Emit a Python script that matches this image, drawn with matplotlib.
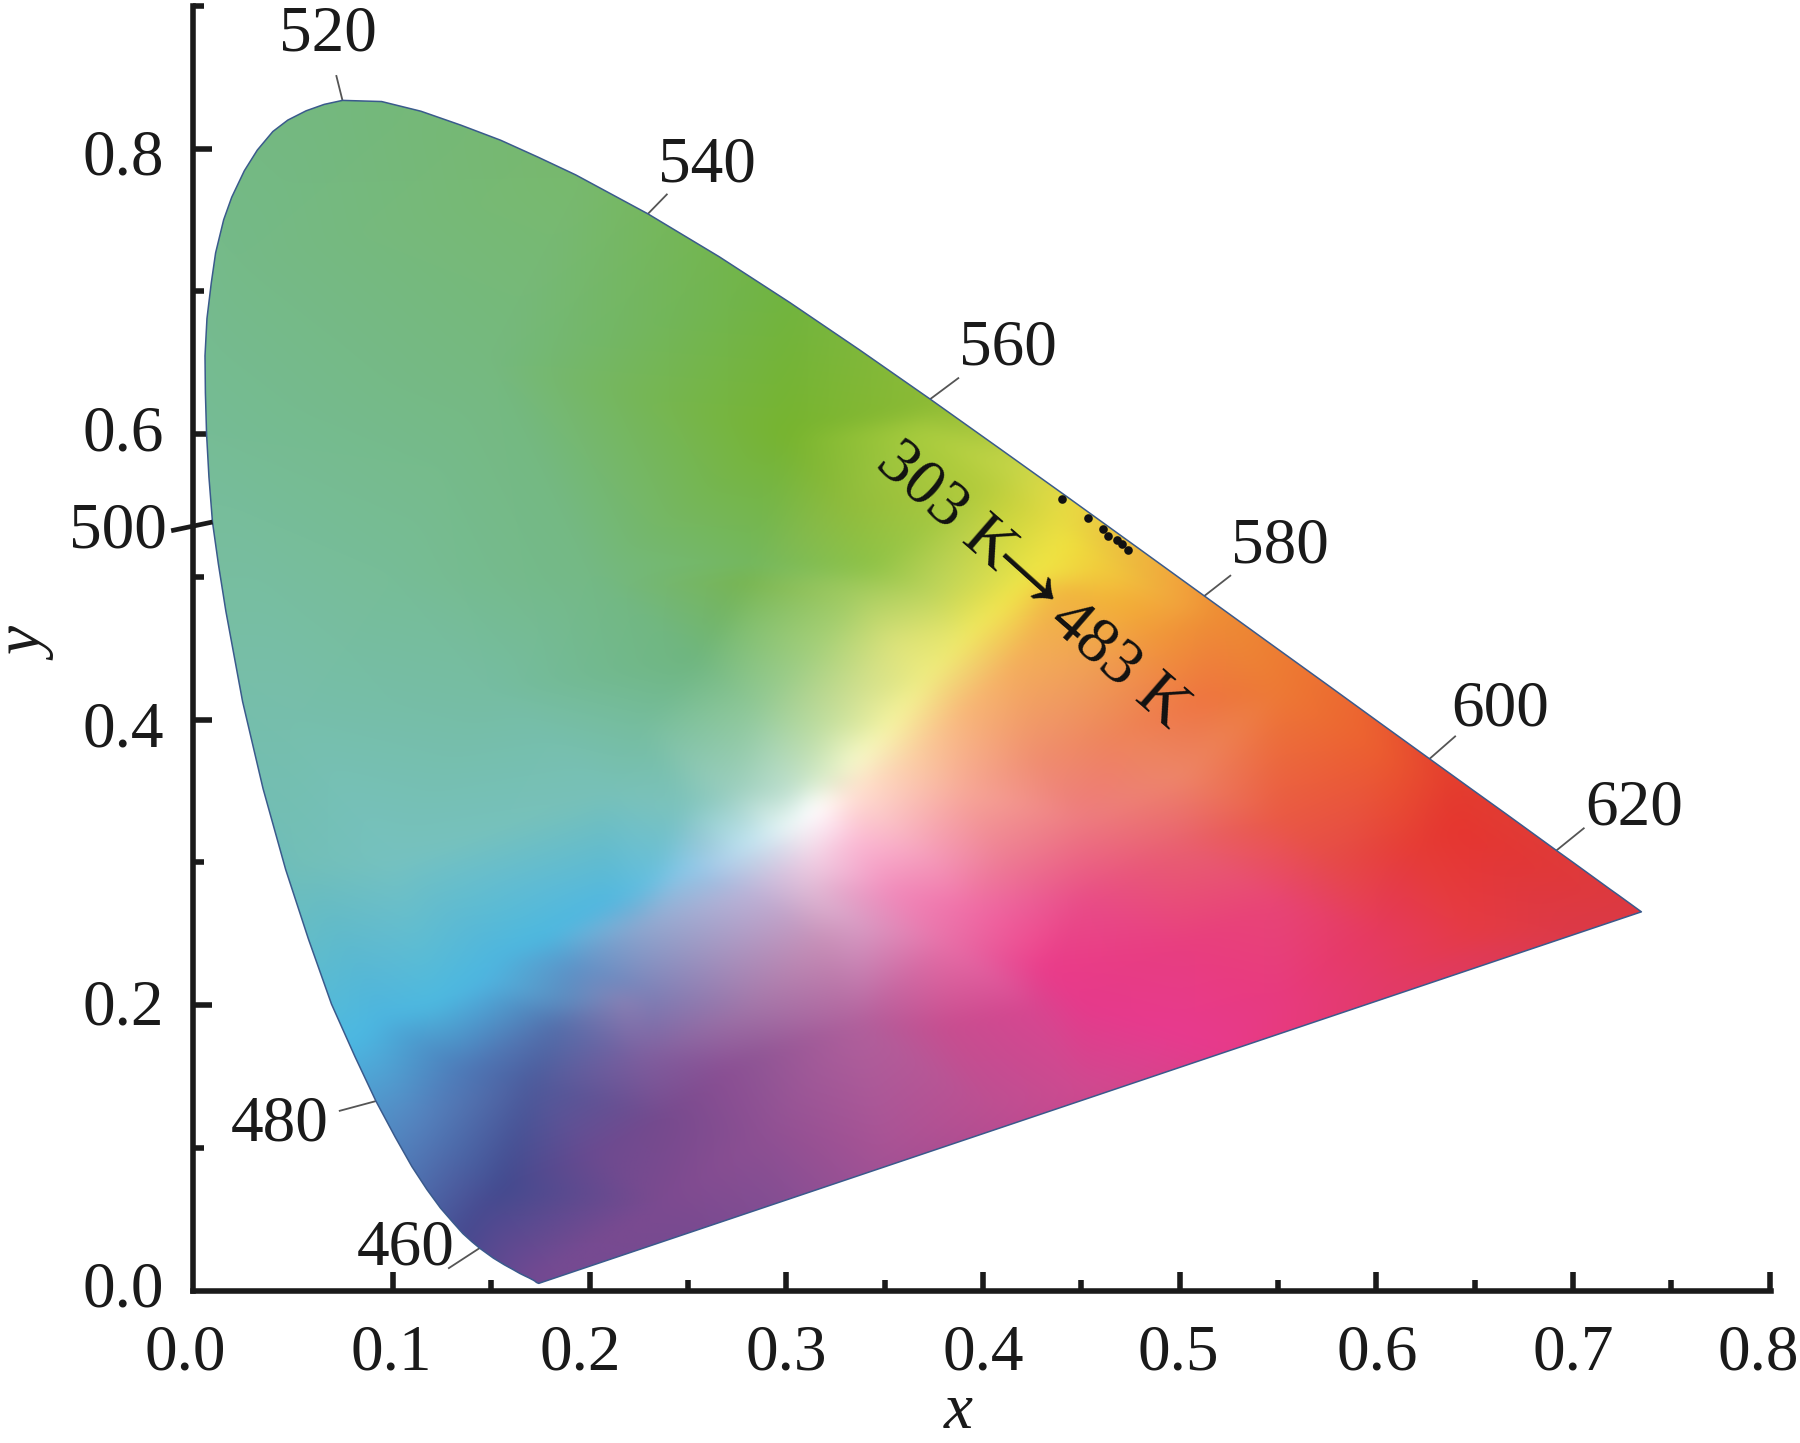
import numpy as np
import matplotlib
matplotlib.use('Agg')
import matplotlib.pyplot as plt
import matplotlib.tri as mtri
from matplotlib.colors import to_rgb
from matplotlib.patches import Polygon
from matplotlib.transforms import Affine2D

# spectral locus (nm, x, y), closer spaced where the curve bends most
locus_nm = [380, 400, 410, 415, 420, 425, 430, 435, 440, 445, 450, 455, 460, 462.5, 465, 467.5, 470,
            472.5, 475, 477.5, 480, 482.5, 485, 487.5, 490, 492.5, 495, 497.5, 498.7, 500, 501.2, 502.5,
            503.7, 505, 506.2, 507.5, 508.7, 510, 511, 512.5, 513.8, 515, 516.2, 517.5, 518.8, 520,
            522.5, 525, 527.5, 530, 532.5, 535, 540, 545, 550, 555,
            560, 565, 570, 575, 580, 585, 590, 595, 600, 605, 610, 615, 620, 625, 630, 635, 640,
            645, 650, 655, 660, 700]
locus_x = [.1741, .1733, .1726, .1721, .1714, .1703, .1689, .1669, .1644, .1611, .1566, .1510, .1440,
           .1400, .1355, .1304, .1241, .1172, .1096, .1011, .0913, .0806, .0687, .0570, .0454, .0339,
           .0235, .0150, .0112, .0082, .0064, .0052, .0046, .0044, .0054, .0076, .0098, .0139, .0180,
           .0244, .0310, .0389, .0465, .0558, .0650, .0743, .0942, .1142,
           .1344, .1547, .1738, .1929, .2296, .2658, .3016, .3373, .3731, .4087, .4441, .4788, .5125,
           .5448, .5752, .6029, .6270, .6482, .6658, .6801, .6915, .7006, .7079, .7140, .7190, .7230,
           .7260, .7283, .7300, .7347]
locus_y = [.0050, .0054, .0060, .0066, .0072, .0080, .0090, .0103, .0120, .0146, .0180, .0227, .0297,
           .0343, .0399, .0478, .0578, .0708, .0868, .1075, .1327, .1640, .2007, .2462, .2950, .3517,
           .4127, .4760, .5090, .5384, .5700, .6000, .6290, .6548, .6810, .7060, .7270, .7502, .7660,
           .7845, .7990, .8120, .8200, .8265, .8310, .8338, .8330, .8262,
           .8165, .8059, .7940, .7816, .7543, .7243, .6923, .6589, .6245, .5896, .5547, .5202, .4866,
           .4544, .4242, .3965, .3725, .3514, .3340, .3197, .3083, .2993, .2920, .2859, .2809, .2770,
           .2740, .2717, .2700, .2653]

# colours at these chromaticities
anchor_x = [.07, .00, .02, .20, .30, .375, .30, .15, .10, .03, .20, .28, .33, .40, .44, .46,
            .12, .085, .05, .10, .05, .15, .175, .45, .50, .40, .35, .45, .52, .55, .60, .65,
            .62, .7345, .70, .55, .50, .45, .50, .47, .55, .60, .64, .50, .55, .45, .60,
            -.03, .00, .25, .50, .80, .60, .30, .10, .05,
            .314, .336, .3544, .3725, .394, .4144, .3635, .3904, .418, .4377, .3904, .427,
            .336, .336, .3725, .4087, .3544, .3904, .427, .3141, .3126, .3178, .2816, .2634,
            .2816, .30, .2725, .2272, .2089, .1778, .1544, .2272, .2491, .1905, .2272, .1819,
            .1727, .2272, .2816, .2816, .336, .3813, .427, .4322, .336, .3813, .3178, .30,
            .2725, .2455, .2816, .3178, .336, .3544, .3178, .2816, .2542, .3725, .336, .2816,
            .2272, .2089, .1697, .156, .1444, .2374, .2037, .2714, .2882, .173, .2374, .1356,
            .1103, .0934, .1444, .1865, .2206,
            .4275, .4443, .419, .368, .3426, .385, .4698, .4866, .52, .512, .4528, .4698,
            .50, .58, .641]
anchor_y = [.83, .60, .72, .78, .70, .62, .60, .65, .50, .50, .50, .50, .55, .56, .54, .50,
            .20, .18, .30, .30, .40, .42, .005, .20, .18, .13, .10, .14, .17, .20, .25, .25,
            .31, .2675, .25, .33, .36, .33, .48, .49, .42, .38, .35, .31, .27, .27, .21,
            .50, .92, .92, .68, .30, .12, -.03, -.03, .15,
            .3367, .3717, .3976, .43, .4606, .486, .3717, .4068, .4418, .4887, .3486, .3717,
            .3486, .3135, .3017, .3017, .2785, .2665, .2435, .3017, .2785, .2435, .2785, .2965,
            .3135, .3247, .2315, .2548, .2716, .2478, .2337, .2828, .2947, .2246, .2083, .1847,
            .1545, .1615, .1615, .1966, .1847, .1847, .1966, .2246, .2548, .2435, .36, .3486,
            .3486, .3367, .4068, .395, .4186, .4536, .4536, .465, .4418, .4887, .4887, .5048,
            .395, .3486, .143, .0717, .0556, .1193, .0955, .155, .1075, .008, .06, .155,
            .1193, .19, .214, .202, .202,
            .5027, .5259, .577, .60, .507, .4606, .479, .4606, .472, .414, .437, .39,
            .24, .30, .324]
anchor_colors = ['#74B87E', '#76BC96', '#75BA88', '#78B96C', '#71B440', '#8DBB35', '#77B42F', '#75B97F',
                 '#77BD97', '#78BEA0', '#74B985', '#78B550', '#8FBC3C', '#B5CC3C', '#E8DC42', '#F2C83C',
                 '#4DB9E0', '#4CB8E2', '#72BFB8', '#76C2C0', '#77BFAC', '#76BDA2', '#744A92', '#E63A8B',
                 '#E83A8E', '#BC5092', '#A85395', '#CE4A90', '#E73A8C', '#E83A80', '#E63A5E', '#E53B45',
                 '#E63C35', '#DC3A42', '#DC3A48', '#EA5A45', '#EE8568', '#EE7C80', '#F2A33C', '#F3B53B',
                 '#EE7A35', '#EC5F30', '#E43B2E', '#E96070', '#E84575', '#E94C88', '#E33A6A',
                 '#78BEA0', '#74B87E', '#78B96C', '#F3B53B', '#DC3A42', '#E33A6A', '#6F4A92', '#41498F', '#4CB8E2',
                 '#FFFFFF', '#F7F8C8', '#F6F3A0', '#F0EC80', '#F0E860', '#F1E44A', '#FBCFA5', '#F8B878',
                 '#F4AF5A', '#F1B840', '#F7A898', '#F08E70', '#FFE0D0', '#FBBAD4', '#F59BBB', '#EE7E95',
                 '#F18BBB', '#F070A8', '#EE4C90', '#F2D0E4', '#DFB8D4', '#C890B8', '#BCB4D8', '#A8CCEA',
                 '#C2E4F0', '#E8F6F6', '#A890BC', '#8FA8D0', '#52B8E0', '#4DB8E0', '#4EB6DF', '#62BEE0',
                 '#8CC8E8', '#5D93C8', '#7C82B8', '#5470AC', '#4E60A0', '#7E5E9E', '#8E5595', '#A275A8',
                 '#B0609C', '#C84E90', '#D84690', '#EA3C8A', '#D89CC4', '#E870A8', '#D8ECC8', '#BFE0D0',
                 '#9CCFC0', '#7CC3BE', '#8FC898', '#C0DEA0', '#D0E090', '#DAE27A', '#A6D078', '#84C070',
                 '#6FB67F', '#BCD45C', '#A4CC60', '#74B860', '#76BD9E', '#78C1B8', '#4D5B9C', '#434A8F',
                 '#484A90', '#764A8E', '#6C4A90', '#8C5094', '#8E5093', '#744A92', '#7C4A90', '#4E7AB8',
                 '#5585C0', '#4CB5E0', '#4FB4E0', '#5D8CC0', '#8A80B4',
                 '#F0E545', '#EFE03D', '#C8D648', '#A8CC3E', '#8FC348', '#E5E56A', '#F3AF38', '#F19A3A',
                 '#EE8D35', '#EE7540', '#F0A055', '#EE8458', '#E83E80', '#E64A48', '#E6362F']

# the cluster of points near the locus
dots_x = [.4401, .4535, .4611, .4637, .4683, .4708, .4739]
dots_y = [.5544, .5413, .5336, .5287, .5259, .5231, .5189]

# wavelength labels: text centre, then outer end of the leader
wave_nm = [460, 480, 500, 520, 540, 560, 580, 600, 620]
wave_text_x = [.1062, .0426, -.0397, .0671, .2596, .4125, .5508, .6628, .731]
wave_text_y = [.0294, .1163, .5314, .880, .788, .660, .521, .4067, .3375]
lead_x = [.1284, .0729, -.0128, .0712, .2392, .3874, .5257, .64, .7054]
lead_y = [.0157, .1259, .5323, .8509, .7679, .6392, .5008, .3882, .3238]

x_major = [0, .1, .2, .3, .4, .5, .6, .7, .8]
x_minor = [.15, .25, .35, .45, .55, .65, .75]
y_major = [0, .2, .4, .6, .8]
y_minor = [.1, .3, .5, .7, .9]
x_ticklabels = ['0.0', '0.1', '0.2', '0.3', '0.4', '0.5', '0.6', '0.7', '0.8']
y_ticklabels = ['0.0', '0.2', '0.4', '0.6', '0.8']

W, H = 1800, 1443
plt.rcParams['font.family'] = ['Liberation Serif', 'DejaVu Serif']
FS = 47

fig = plt.figure(figsize=(W / 100, H / 100), dpi=100)
ax = fig.add_axes([193 / W, (H - 1290.5) / H, (1771 - 193) / W, (1290.5 - 5.9) / H])

# colour field, interpolated between the anchors and clipped to the locus
tri = mtri.Triangulation(anchor_x, anchor_y)
rgb = np.array([to_rgb(c) for c in anchor_colors])
gx, gy = np.meshgrid(np.linspace(-.01, .75, 760), np.linspace(-.01, .85, 860))
field = np.ones(gx.shape + (3,))
for i in range(3):
    field[..., i] = mtri.LinearTriInterpolator(tri, rgb[:, i])(gx, gy).filled(1)
# soften the triangle edges
kernel = np.ones(15) / 15
for i in range(3):
    field[..., i] = np.apply_along_axis(lambda v: np.convolve(v, kernel, mode='same'), 0, field[..., i])
    field[..., i] = np.apply_along_axis(lambda v: np.convolve(v, kernel, mode='same'), 1, field[..., i])
field = np.clip(field, 0, 1)

outline = Polygon(np.column_stack([locus_x, locus_y]), closed=True, fc='none', ec='#3A5A8C', lw=1.1,
                  joinstyle='round', zorder=3)
ax.add_patch(outline)
im = ax.imshow(field, origin='lower', extent=(-.01, .75, -.01, .85), aspect='auto',
               interpolation='bilinear', zorder=2)
im.set_clip_path(outline)

ax.set_xlim(-.0017, .8006)
ax.set_ylim(0, .9)

ax.plot(dots_x, dots_y, 'o', color='#111111', ms=6.2, mew=0, zorder=4)

# leaders and wavelength labels
for nm, tx, ty, lx, ly in zip(wave_nm, wave_text_x, wave_text_y, lead_x, lead_y):
    k = locus_nm.index(nm)
    if nm == 500:
        ax.plot([lx, locus_x[k]], [ly, locus_y[k]], color='#1a1a1a', lw=3.4, clip_on=False, zorder=4,
                solid_capstyle='butt')
    else:
        ax.plot([lx, locus_x[k]], [ly, locus_y[k]], color='#555555', lw=1.3, clip_on=False, zorder=1)
    ax.text(tx, ty, str(nm), fontsize=FS, ha='center', va='center', color='#1a1a1a', clip_on=False, zorder=5)

# the temperature note, arrow set apart so it can be longer than the serif glyph
ax.text(.3808, .549, '303 K', fontsize=FS, rotation=-41, rotation_mode='anchor',
        ha='center', va='center', color='#111111', zorder=5)
ax.text(.4224, .4944, '\u2192', fontsize=80, rotation=-42, rotation_mode='anchor',
        ha='center', va='center', color='#111111', zorder=5)
ax.text(.4688, .4384, '483 K', fontsize=FS, rotation=-41, rotation_mode='anchor',
        ha='center', va='center', color='#111111', zorder=5)

# axes
for s in ['top', 'right']:
    ax.spines[s].set_visible(False)
for s in ['left', 'bottom']:
    ax.spines[s].set_linewidth(4)
    ax.spines[s].set_color('#1a1a1a')
    ax.spines[s].set_capstyle('projecting')

ax.set_xticks(x_major)
ax.set_xticks(x_minor, minor=True)
ax.set_yticks(y_major)
ax.set_yticks(y_minor, minor=True)
ax.set_xticklabels(x_ticklabels)
ax.set_yticklabels(y_ticklabels)
ax.tick_params(which='major', direction='in', length=14, width=4, color='#1a1a1a')
ax.tick_params(which='minor', direction='in', length=8, width=4, color='#1a1a1a')
ax.tick_params(axis='x', which='major', labelsize=FS, pad=24, labelcolor='#1a1a1a')
ax.tick_params(axis='y', which='major', labelsize=FS, pad=21, labelcolor='#1a1a1a')

ax.xaxis.get_major_ticks()[0].tick1line.set_visible(False)
ax.yaxis.get_major_ticks()[0].tick1line.set_visible(False)

# hand-set nudges of the labels, in pixels
x_nudge = [-11, -2, -9, 0, 0, -2, 1, 0, -12]
y_nudge = [7, 3, -4, 6, -3]
for lab, dx in zip(ax.get_xticklabels(), x_nudge):
    lab.set_transform(lab.get_transform() + Affine2D().translate(dx, 0))
for lab, dy in zip(ax.get_yticklabels(), y_nudge):
    lab.set_transform(lab.get_transform() + Affine2D().translate(0, dy))

fig.text(958 / W, 1 - 1428 / H, 'x', fontsize=FS, style='italic', ha='center', va='baseline', color='#1a1a1a')
fig.text(30 / W, 1 - 646 / H, 'y', fontsize=FS, style='italic', rotation=90, ha='center', va='center', color='#1a1a1a')

fig.savefig('out.png', dpi=100, facecolor='white')
